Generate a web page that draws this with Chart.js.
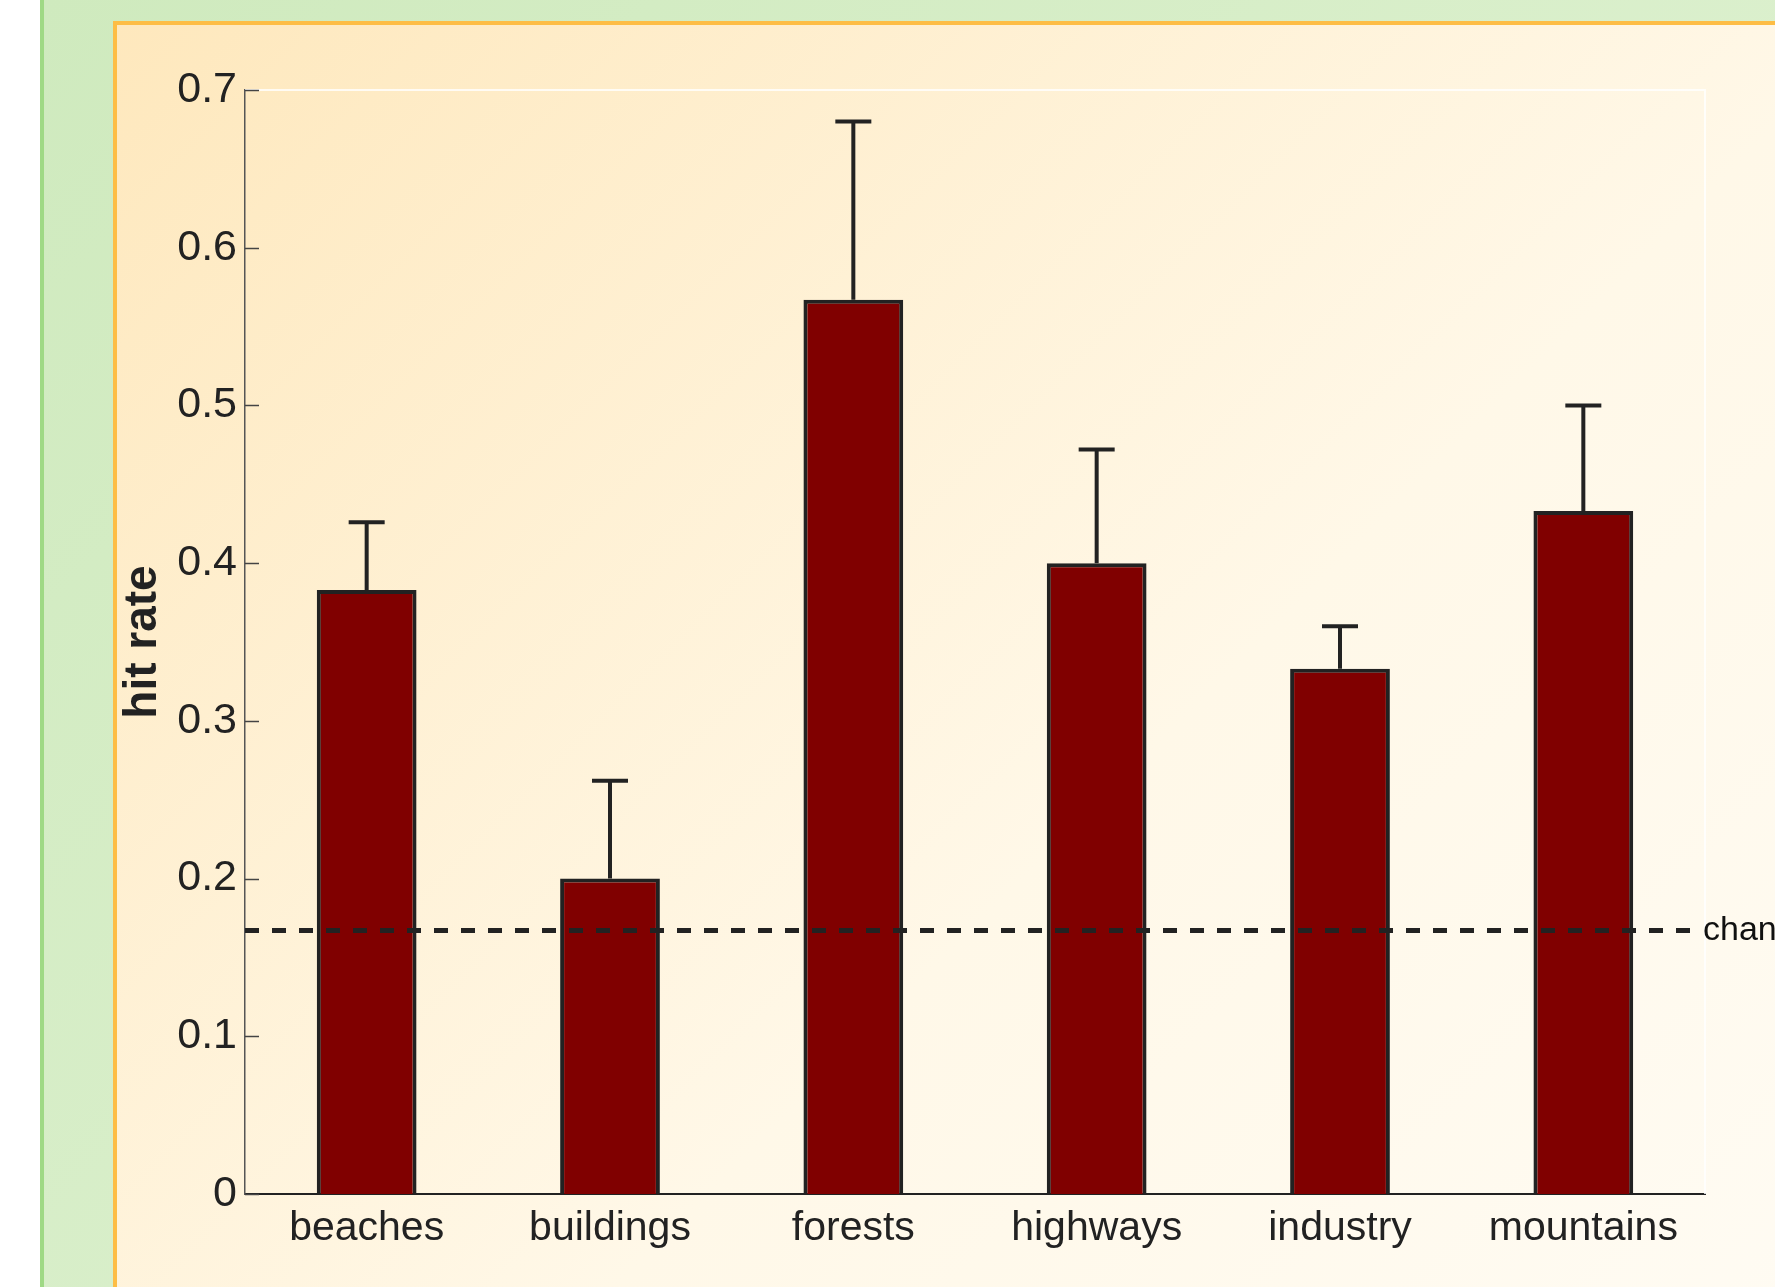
<!DOCTYPE html>
<html>
<head>
<meta charset="utf-8">
<script src="https://cdn.jsdelivr.net/npm/chart.js@4/dist/chart.umd.min.js"></script>
<style>
  html, body { margin: 0; padding: 0; background: #fff; overflow: hidden; }
  #green {
    position: absolute; left: 40px; top: 0; width: 1800px; height: 1400px;
    border-left: 4px solid #9fd985;
    background: linear-gradient(135deg, #cfeabe 0%, #e4f4d8 100%);
  }
  #panel {
    position: absolute; left: 113px; top: 21px; width: 1800px; height: 1400px;
    border-left: 4px solid #fdbd45; border-top: 4px solid #fdbd45;
    background: linear-gradient(135deg, #fee8bd 0%, #fff8e8 55%, #fffcf5 100%);
  }
  #chart { position: absolute; left: 0; top: 0; }
</style>
</head>
<body>
<div id="green"></div>
<div id="panel"></div>
<canvas id="chart" width="1775" height="1287"></canvas>
<script>
// Scene categories and hit rates (error bars are one-sided, upward)
const categories = ['beaches', 'buildings', 'forests', 'highways', 'industry', 'mountains'];
const hitRates = [0.383, 0.200, 0.567, 0.400, 0.333, 0.433];
const errors = [0.043, 0.062, 0.113, 0.072, 0.027, 0.067];
const chanceLevel = 0.167;
const chanceLabel = 'chance';

const FONT = '"Liberation Sans", Arial, Helvetica, sans-serif';
const INK = '#222222';

const decorPlugin = {
  id: 'decor',
  afterDatasetsDraw(chart) {
    const ctx = chart.ctx;
    const area = chart.chartArea;
    const y = chart.scales.y;

    ctx.save();
    // faint top/right frame of the plot box
    ctx.strokeStyle = 'rgba(255,255,255,0.8)';
    ctx.lineWidth = 2;
    ctx.beginPath();
    ctx.moveTo(area.left, area.top);
    ctx.lineTo(area.right, area.top);
    ctx.lineTo(area.right, area.bottom);
    ctx.stroke();

    // inward tick marks on the y axis
    ctx.strokeStyle = '#444';
    ctx.lineWidth = 1.5;
    y.ticks.forEach(t => {
      const py = Math.round(y.getPixelForValue(t.value)) + 0.5;
      ctx.beginPath();
      ctx.moveTo(area.left, py);
      ctx.lineTo(area.left + 14, py);
      ctx.stroke();
    });

    // error bars
    ctx.strokeStyle = INK;
    ctx.lineWidth = 4;
    const meta = chart.getDatasetMeta(0);
    meta.data.forEach((bar, i) => {
      const cx = bar.x;
      const y0 = y.getPixelForValue(hitRates[i]);
      const y1 = y.getPixelForValue(hitRates[i] + errors[i]);
      ctx.beginPath();
      ctx.moveTo(cx, y0);
      ctx.lineTo(cx, y1);
      ctx.moveTo(cx - 18, y1);
      ctx.lineTo(cx + 18, y1);
      ctx.stroke();
    });

    // chance line
    const cy = y.getPixelForValue(chanceLevel);
    ctx.setLineDash([14, 13]);
    ctx.lineWidth = 5;
    ctx.beginPath();
    ctx.moveTo(area.left, cy);
    ctx.lineTo(area.right - 10, cy);
    ctx.stroke();
    ctx.setLineDash([]);
    ctx.fillStyle = '#111';
    ctx.font = '34px ' + FONT;
    ctx.textAlign = 'left';
    ctx.textBaseline = 'middle';
    ctx.fillText(chanceLabel, area.right - 2, cy);
    ctx.restore();
  }
};

new Chart(document.getElementById('chart'), {
  type: 'bar',
  data: {
    labels: categories,
    datasets: [{
      label: 'hit rate',
      data: hitRates,
      backgroundColor: '#800000',
      borderColor: INK,
      borderWidth: 4,
      borderSkipped: 'start',
      barPercentage: 0.41,
      categoryPercentage: 1.0,
    }],
  },
  options: {
    responsive: false,
    animation: false,
    devicePixelRatio: 1,
    layout: { padding: { left: 0, top: 90, right: 70, bottom: 0 } },
    plugins: {
      legend: { display: false },
      tooltip: { enabled: false },
    },
    scales: {
      x: {
        grid: { display: false, drawTicks: false },
        border: { display: true, color: INK, width: 2 },
        ticks: { color: INK, padding: 10, font: { size: 41, family: FONT } },
        afterFit: (s) => { s.height = 93; },
      },
      y: {
        min: 0,
        max: 0.7,
        grid: { display: false, drawTicks: false },
        border: { display: true, color: '#555', width: 1.5 },
        ticks: {
          stepSize: 0.1,
          color: INK,
          padding: 8,
          font: { size: 43, family: FONT },
          callback: (v) => (v === 0 ? '0' : v.toFixed(1)),
        },
        title: {
          display: true,
          text: 'hit rate',
          color: INK,
          font: { size: 46, weight: 'bold', family: FONT },
          padding: { top: 116, bottom: 0 },
        },
        afterFit: (s) => { s.width = 245; },
      },
    },
  },
  plugins: [decorPlugin],
});
</script>
</body>
</html>
